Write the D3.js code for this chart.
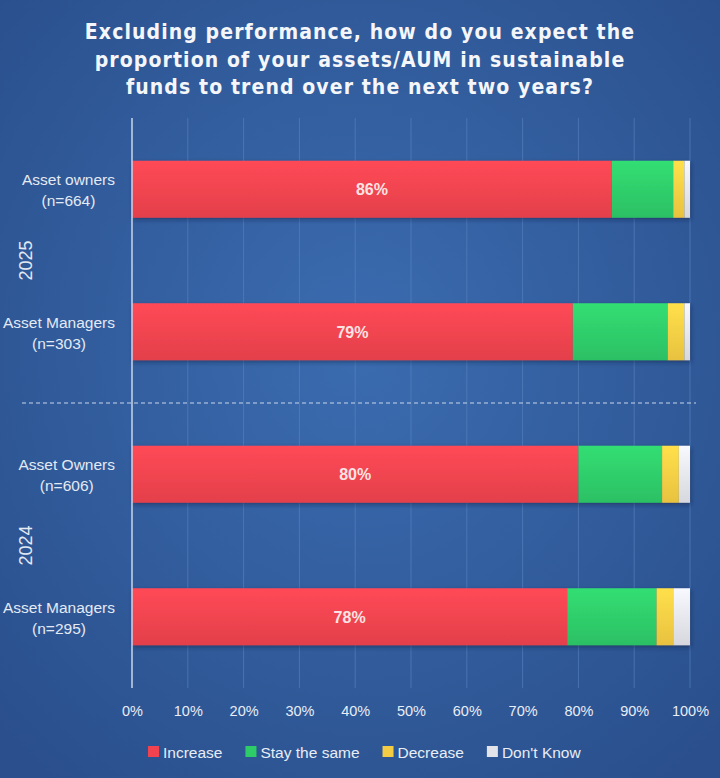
<!DOCTYPE html>
<html>
<head>
<meta charset="utf-8">
<script src="https://cdn.jsdelivr.net/npm/d3@7"></script>
<style>
  html, body { margin: 0; padding: 0; background: #2d5593; }
  svg { display: block; }
</style>
</head>
<body>
<script>
// data
const groups = ["Asset owners\n(n=664)", "Asset Managers\n(n=303)", "Asset Owners\n(n=606)", "Asset Managers\n(n=295)"];
const years = ["2025", "2025", "2024", "2024"];
const increase = [86, 79, 80, 78];
const staySame = [11, 17, 15, 16];
const decrease = [2, 3, 3, 3];
const dontKnow = [1, 1, 2, 3];
const seriesNames = ["Increase", "Stay the same", "Decrease", "Don't Know"];
const tickValues = [0, 10, 20, 30, 40, 50, 60, 70, 80, 90, 100];
const titleLines = ["Excluding performance, how do you expect the",
                    "proportion of your assets/AUM in sustainable",
                    "funds to trend over the next two years?"];

const colors = ["#f0434f", "#2ecb69", "#f5cd44", "#e3e4e9"];

const width = 720, height = 778;
const margin = {top: 118, left: 132, right: 30, bottom: 90};
const labelFont = '"Liberation Sans", Arial, sans-serif';

const svg = d3.select('body').append('svg')
    .attr('width', width)
    .attr('height', height);

// background gradient
const defs = svg.append('defs');
const bg = defs.append('radialGradient').attr('id', 'bg')
    .attr('cx', '50%').attr('cy', '45%').attr('r', '70%');
bg.append('stop').attr('offset', '0%').attr('stop-color', '#3b6cb0');
bg.append('stop').attr('offset', '100%').attr('stop-color', '#2a4f8c');

colors.forEach((c, i) => {
	let g = defs.append('linearGradient').attr('id', 'bar' + i)
		.attr('x1', 0).attr('x2', 0).attr('y1', 0).attr('y2', 1);
	g.append('stop').attr('offset', '0%').attr('stop-color', d3.color(c).brighter(0.25));
	g.append('stop').attr('offset', '100%').attr('stop-color', d3.color(c).darker(0.15));
});
const shadow = defs.append('filter').attr('id', 'shadow')
	.attr('x', '-5%').attr('y', '-20%').attr('width', '110%').attr('height', '150%');
shadow.append('feDropShadow').attr('dx', 1).attr('dy', 2).attr('stdDeviation', 2)
	.attr('flood-color', '#0a1e40').attr('flood-opacity', 0.5);

svg.append('rect').attr('width', width).attr('height', height).attr('fill', 'url(#bg)');

// title
svg.append('g').selectAll('text')
	.data(titleLines)
	.enter().append('text')
	.attr('x', 360)
	.attr('y', (d, i) => 39 + i * 27.5)
	.attr('text-anchor', 'middle')
	.style('font-family', '"DejaVu Sans Condensed", "DejaVu Sans", sans-serif')
	.style('font-weight', 'bold')
	.style('font-size', '21px')
	.style('letter-spacing', '1.1px')
	.style('fill', '#f4f6fa')
	.text(d => d);

const x = d3.scaleLinear().domain([0, 100]).range([margin.left, 690]);
const y = d3.scaleBand().domain(d3.range(groups.length))
	.range([margin.top, 688]).paddingInner(0.6).paddingOuter(0.3);

// gridlines
svg.append('g').selectAll('line')
	.data(tickValues.slice(1))
	.enter().append('line')
	.attr('x1', d => x(d)).attr('x2', d => x(d))
	.attr('y1', margin.top).attr('y2', 688)
	.style('stroke', '#5a84c0')
	.style('stroke-width', 1)
	.style('opacity', 0.6);

// stacked bars
const rows = groups.map((g, i) => ({
	i: i,
	vals: [increase[i], staySame[i], decrease[i], dontKnow[i]]
}));
const barG = svg.append('g');
rows.forEach(row => {
	let cum = 0;
	let rowG = barG.append('g').attr('filter', 'url(#shadow)');
	row.vals.forEach((v, k) => {
		rowG.append('rect')
			.attr('x', x(cum))
			.attr('y', y(row.i))
			.attr('width', x(cum + v) - x(cum))
			.attr('height', y.bandwidth())
			.style('fill', 'url(#bar' + k + ')');
		cum += v;
	});
	barG.append('text')
		.attr('x', (x(0) + x(row.vals[0])) / 2)
		.attr('y', y(row.i) + y.bandwidth() / 2 + 6)
		.attr('text-anchor', 'middle')
		.style('font-family', labelFont)
		.style('font-weight', 'bold')
		.style('font-size', '16px')
		.style('fill', '#fbe3e3')
		.text(row.vals[0] + '%');
});

// vertical axis line
svg.append('line')
	.attr('x1', margin.left).attr('x2', margin.left)
	.attr('y1', margin.top).attr('y2', 688)
	.style('stroke', '#c9d6ea').style('stroke-width', 1.5);

// category labels: centred lines, block right-aligned near the axis
const catG = svg.append('g');
groups.forEach((g, i) => {
	let t = catG.append('text')
		.attr('text-anchor', 'middle')
		.style('font-family', labelFont)
		.style('font-size', '15.5px')
		.style('fill', '#e4eaf4');
	let spans = g.split('\n').map((line, j) =>
		t.append('tspan')
			.attr('y', y(i) + y.bandwidth() / 2 - 4 + j * 21)
			.text(line));
	let maxW = d3.max(spans, s => s.node().getComputedTextLength());
	spans.forEach(s => s.attr('x', 115 - maxW / 2));
});

// year labels
const yearNames = Array.from(new Set(years));
yearNames.forEach(yr => {
	let idx = years.map((d, i) => d === yr ? i : -1).filter(i => i >= 0);
	let cy = (y(idx[0]) + y(idx[idx.length - 1]) + y.bandwidth()) / 2;
	svg.append('text')
		.attr('transform', `translate(32, ${cy}) rotate(-90)`)
		.attr('text-anchor', 'middle')
		.style('font-family', labelFont)
		.style('font-size', '18px')
		.style('fill', '#e4eaf4')
		.text(yr);
});

// dashed separator between years
const sepY = (y(1) + y.bandwidth() + y(2)) / 2;
svg.append('line')
	.attr('x1', 22).attr('x2', 696)
	.attr('y1', sepY).attr('y2', sepY)
	.style('stroke', '#c9d6ea')
	.style('stroke-dasharray', '4,3')
	.style('stroke-width', 1);

// x axis tick labels
const xAxis = svg.append('g')
	.attr('transform', 'translate(0, 688)')
	.call(d3.axisBottom(x).tickValues(tickValues).tickSize(0).tickPadding(18).tickFormat(d => d + '%'));
xAxis.select('.domain').remove();
xAxis.selectAll('text')
	.style('font-family', labelFont)
	.style('font-size', '14.5px')
	.style('fill', '#e8edf6');

// legend
const legend = svg.append('g').attr('transform', 'translate(148, 746)')
	.selectAll('.legend')
	.data(seriesNames)
	.enter().append('g').attr('class', 'legend');
legend.append('rect')
	.attr('y', 0)
	.attr('width', 11)
	.attr('height', 11)
	.style('fill', (d, i) => colors[i]);
legend.append('text')
	.attr('x', 15)
	.attr('y', 11.5)
	.text(d => d)
	.style('font-family', labelFont)
	.style('font-size', '15.5px')
	.style('fill', '#e8edf6');
let legendX = [];
svg.selectAll('.legend').nodes().forEach(function(d, i) {
	legendX.push(i === 0 ? 0 : legendX[i - 1] + svg.selectAll('.legend').nodes()[i - 1].getBBox().width + 23);
});
legend.attr('transform', (d, i) => `translate(${legendX[i]}, 0)`);
</script>
</body>
</html>
